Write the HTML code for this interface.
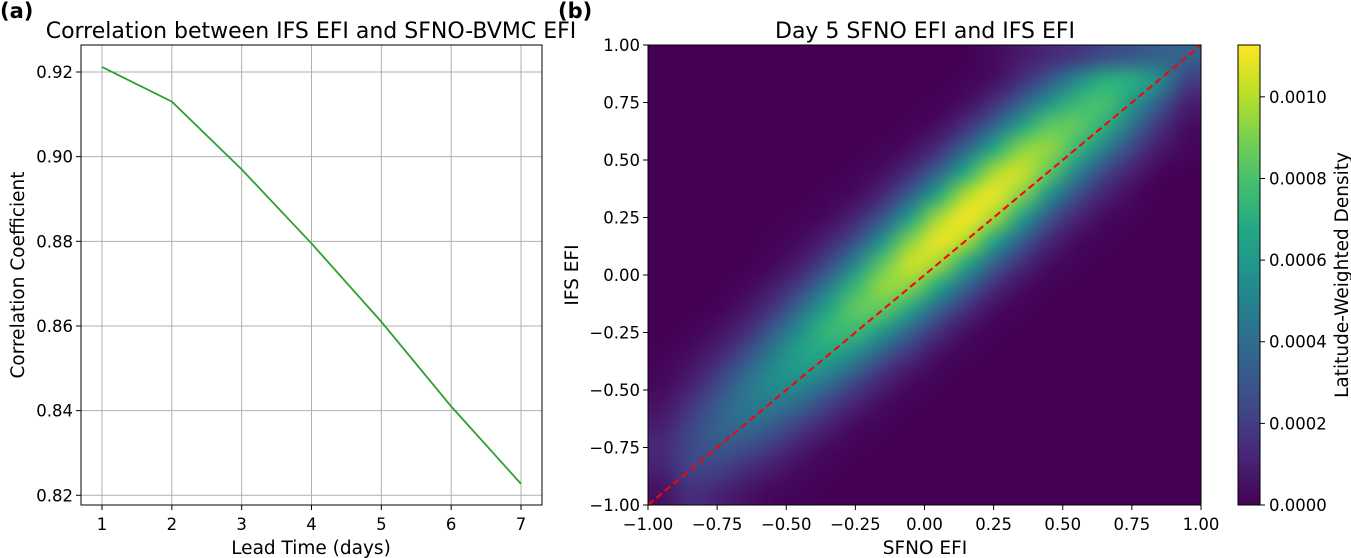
<!DOCTYPE html>
<html><head><meta charset="utf-8"><style>
body{margin:0;background:#fff;width:1351px;height:558px;overflow:hidden;position:relative;font-family:"Liberation Sans","DejaVu Sans",sans-serif}
svg{position:absolute;left:0;top:0}
canvas{position:absolute}
</style></head><body>
<canvas id="hm" width="553" height="460" style="left:648px;top:45px"></canvas>
<canvas id="cb" width="22" height="460" style="left:1238px;top:45px"></canvas>
<svg id="s" width="1351" height="558" xmlns="http://www.w3.org/2000/svg" font-family="DejaVu Sans, Liberation Sans, sans-serif"></svg>
<script>
const leadDays=[1,2,3,4,5,6,7];
const corrValues=[0.9212,0.913,0.897,0.8795,0.861,0.841,0.8227];
const corrTicks=[0.82,0.84,0.86,0.88,0.90,0.92];
const efiTicks=[-1,-0.75,-0.5,-0.25,0,0.25,0.5,0.75,1];
const cbTicks=[0,0.0002,0.0004,0.0006,0.0008,0.0010];
const densityMax=11.27e-4;
// density rows in 1e-4 units, top row (IFS EFI 0.95) to bottom (-0.95), columns SFNO EFI -0.95..0.95
const densityRows=[
[0,0,0,0,0,0,0,0,0,0,0,0,.3,.8,1.3,1.8,2.5,3,3.5,3.5],
[0,0,0,0,0,0,0,0,0,0,0,.1,.4,1.5,3.0,5.2,7.0,7,5.5,2.2],
[0,0,0,0,0,0,0,0,0,0,.1,.4,1.5,3.4,5.8,7.5,8,6.1,3.3,1],
[0,0,0,0,0,0,0,0,0,.1,.4,1.6,3.5,6.4,8.4,8.5,7.1,4.3,1.7,.4],
[0,0,0,0,0,0,0,0,.1,.4,1.5,3.6,6.7,9.2,9.5,7.5,4.9,2.3,.8,.2],
[0,0,0,0,0,0,0,.1,.4,1.5,3.5,6.8,9.7,10.5,8.4,5.2,2.5,1.0,.2,0],
[0,0,0,0,0,0,.1,.3,1.3,3.4,6.7,9.9,11,9.2,5.8,2.7,1.1,.3,0,0],
[0,0,0,0,0,.1,.3,1.2,3.0,6.4,9.7,11.2,9.7,6.4,3.0,1.2,.3,.1,0,0],
[0,0,0,0,.1,.3,1.1,2.7,5.8,9.2,11,9.9,6.7,3.4,1.3,.3,.1,0,0,0],
[0,0,0,0,.2,.9,2.4,5.2,8.4,10.5,9.7,6.8,3.5,1.5,.4,.1,0,0,0,0],
[0,0,0,.2,.8,2.1,4.6,7.5,9.5,9.2,6.7,3.6,1.5,.4,.1,0,0,0,0,0],
[0,0,.1,.6,1.8,4.0,6.6,8.5,8.4,6.4,3.5,1.6,.4,.1,0,0,0,0,0,0],
[0,.1,.5,1.4,3.4,5.7,7.5,7.5,5.8,3.4,1.5,.4,.1,0,0,0,0,0,0,0],
[.1,.4,1.1,2.7,4.8,6.5,6.6,5.2,3.0,1.5,.4,.1,0,0,0,0,0,0,0,0],
[.2,.8,2.1,4.0,5.5,5.7,4.6,2.7,1.3,.4,.1,0,0,0,0,0,0,0,0,0],
[.5,1.5,3.1,4.5,4.8,4.0,2.4,1.2,.4,.1,0,0,0,0,0,0,0,0,0,0],
[.9,2.2,3.5,4.0,3.4,2.1,1.1,.3,.1,0,0,0,0,0,0,0,0,0,0,0],
[1.3,2.5,3.1,2.7,1.8,.9,.3,.1,0,0,0,0,0,0,0,0,0,0,0,0],
[1.0,2.2,2.1,1.4,.8,.3,.1,0,0,0,0,0,0,0,0,0,0,0,0,0],
[.5,1.5,1.1,.6,.2,.1,0,0,0,0,0,0,0,0,0,0,0,0,0,0]
];
const VIR=[[68,1,84],[72,36,117],[65,68,135],[53,95,141],[42,120,142],[33,145,140],[34,168,132],[68,191,112],[122,209,81],[189,223,38],[253,231,37]];
function viridis(t){t=Math.max(0,Math.min(1,t))*10;const i=Math.min(9,Math.floor(t)),f=t-i;const a=VIR[i],b=VIR[i+1];return 'rgb('+a.map((v,k)=>Math.round(v+(b[k]-v)*f)).join(',')+')';}
const NS='http://www.w3.org/2000/svg',S=document.getElementById('s');
function el(tag,at,txt){const e=document.createElementNS(NS,tag);for(const k in at)e.setAttribute(k,at[k]);if(txt!==undefined)e.textContent=txt;S.appendChild(e);return e;}
const TF=16.5,LF=18.5,HF=22;
// left axes
const L={x0:81,x1:542,y0:45,y1:505};
const lx=d=>102+(d-1)*(521-102)/6;
const ly=v=>495.3-(v-0.82)*(495.3-72)/0.1;
leadDays.forEach(d=>{const g=el('line',{x1:lx(d),x2:lx(d),y1:L.y0,y2:L.y1,stroke:'#b0b0b0','stroke-width':1});

const t=el('line',{x1:lx(d),x2:lx(d),y1:L.y1,y2:L.y1+5,stroke:'#000'});
const tl=el('text',{x:lx(d),y:L.y1+25,'text-anchor':'middle','font-size':TF},String(d));});
corrTicks.forEach(v=>{const g=el('line',{x1:L.x0,x2:L.x1,y1:ly(v),y2:ly(v),stroke:'#b0b0b0'});
const t=el('line',{x1:L.x0-5,x2:L.x0,y1:ly(v),y2:ly(v),stroke:'#000'});
const tl=el('text',{x:L.x0-8,y:ly(v)+6,'text-anchor':'end','font-size':TF},v.toFixed(2));});
const pl=el('polyline',{points:leadDays.map((d,i)=>lx(d)+','+ly(corrValues[i])).join(' '),fill:'none',stroke:'#2ca02c','stroke-width':1.8});

const f1=el('rect',{x:L.x0,y:L.y0,width:L.x1-L.x0,height:L.y1-L.y0,fill:'none',stroke:'#000','stroke-width':1});
let t;
t=el('text',{x:311,y:38,'text-anchor':'middle','font-size':HF},'Correlation between IFS EFI and SFNO-BVMC EFI');
t=el('text',{x:0,y:18,'font-size':21,'font-weight':'bold'},'(a)');
t=el('text',{x:311,y:554,'text-anchor':'middle','font-size':LF},'Lead Time (days)');
t=el('text',{x:0,y:0,'text-anchor':'middle','font-size':LF,transform:'translate(24,275) rotate(-90)'},'Correlation Coefficient');
// heatmap
const R={x0:648,x1:1201,y0:45,y1:505};
const hx=v=>R.x0+(v+1)/2*(R.x1-R.x0);
const hy=v=>R.y1-(v+1)/2*(R.y1-R.y0);
const small=document.createElement('canvas');small.width=20;small.height=20;const sc=small.getContext('2d');
densityRows.forEach((row,j)=>row.forEach((v,i)=>{sc.fillStyle=viridis(v*1e-4/densityMax);sc.fillRect(i,j,1,1);}));
const hc=document.getElementById('hm').getContext('2d');hc.imageSmoothingEnabled=true;hc.imageSmoothingQuality='high';
hc.fillStyle=viridis(0);hc.fillRect(0,0,553,460);hc.drawImage(small,0,0,553,460);
const cc=document.getElementById('cb').getContext('2d');
for(let y=0;y<460;y++){cc.fillStyle=viridis(1-y/460);cc.fillRect(0,y,22,1);}
const dl=el('line',{x1:hx(-1),y1:hy(-1),x2:hx(1),y2:hy(1),stroke:'#ff0000','stroke-width':2,'stroke-dasharray':'7,4'});
efiTicks.forEach(v=>{let a=el('line',{x1:hx(v),x2:hx(v),y1:R.y1,y2:R.y1+5,stroke:'#000'});
a=el('text',{x:hx(v),y:R.y1+25,'text-anchor':'middle','font-size':TF},(v<0?'\u2212':'')+Math.abs(v).toFixed(2));
a=el('line',{x1:R.x0-5,x2:R.x0,y1:hy(v),y2:hy(v),stroke:'#000'});
a=el('text',{x:R.x0-8,y:hy(v)+6,'text-anchor':'end','font-size':TF},(v<0?'\u2212':'')+Math.abs(v).toFixed(2));});
const f2=el('rect',{x:R.x0,y:R.y0,width:R.x1-R.x0,height:R.y1-R.y0,fill:'none',stroke:'#000'});
const cy=v=>505-v/densityMax*460;
cbTicks.forEach(v=>{let a=el('line',{x1:1260,x2:1265,y1:cy(v),y2:cy(v),stroke:'#000'});
a=el('text',{x:1269,y:cy(v)+6,'font-size':TF},v.toFixed(4));});
const f3=el('rect',{x:1238,y:45,width:22,height:460,fill:'none',stroke:'#000'});
t=el('text',{x:925,y:38,'text-anchor':'middle','font-size':HF},'Day 5 SFNO EFI and IFS EFI');
t=el('text',{x:558,y:18,'font-size':21,'font-weight':'bold'},'(b)');
t=el('text',{x:925,y:554,'text-anchor':'middle','font-size':LF},'SFNO EFI');
t=el('text',{x:0,y:0,'text-anchor':'middle','font-size':LF,transform:'translate(578,275) rotate(-90)'},'IFS EFI');
t=el('text',{x:0,y:0,'text-anchor':'middle','font-size':LF,transform:'translate(1348,275) rotate(-90)'},'Latitude-Weighted Density');
</script>
</body></html>
